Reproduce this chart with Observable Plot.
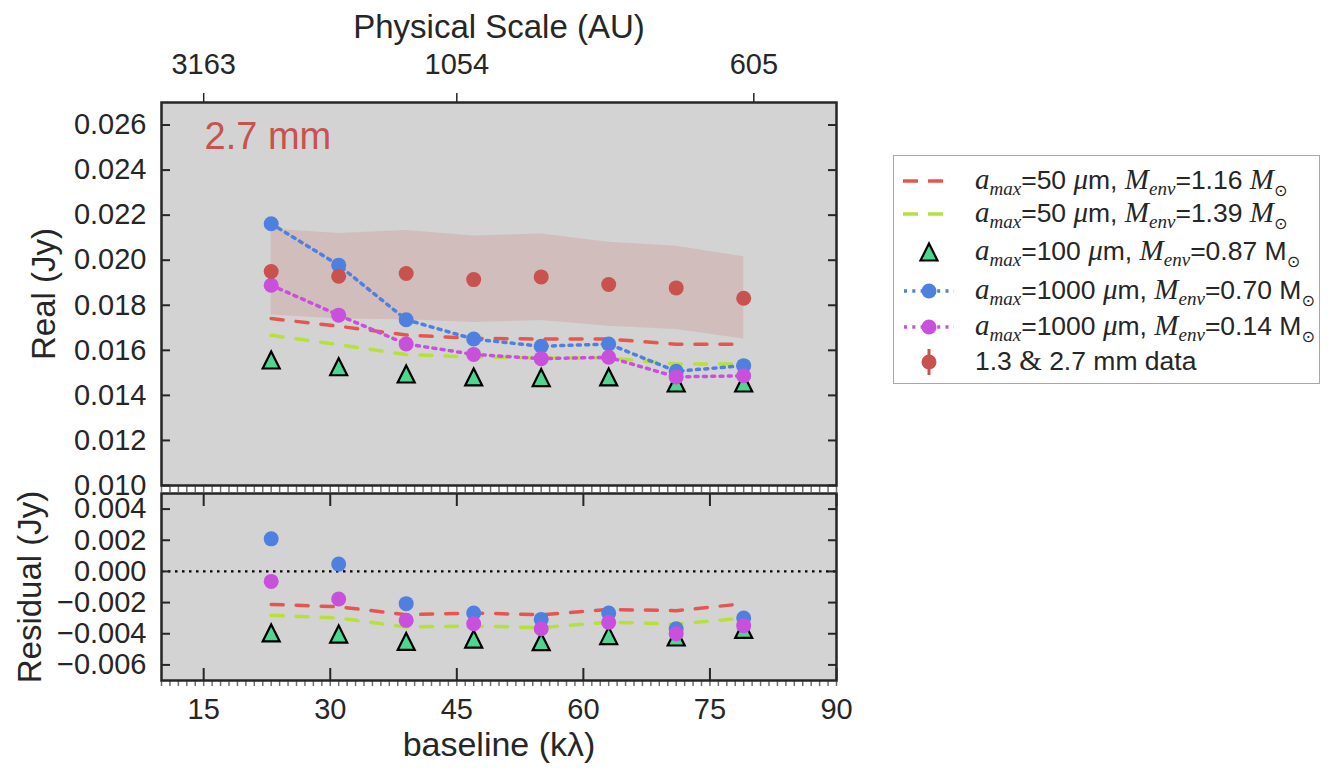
<!DOCTYPE html>
<html>
<head>
<meta charset="utf-8">
<script src="https://cdn.jsdelivr.net/npm/d3@7"></script>
<script src="https://cdn.jsdelivr.net/npm/@observablehq/plot@0.6"></script>
<style>
  body { margin: 0; background: #fff; }
  #fig { position: relative; width: 1336px; height: 781px; font-family: "Liberation Sans", Arial, sans-serif; color: #262626; }
  #fig > svg { position: absolute; left: 0; overflow: visible; }
  .legend { position: absolute; left: 893px; top: 155px; width: 427px; height: 229px; border: 1.5px solid #a8a8a8; background: #fff; box-sizing: border-box; }
  .row { position: absolute; left: 0; height: 0; width: 100%; }
  .row svg { position: absolute; left: 0; top: -15px; overflow: visible; }
  .row .txt { position: absolute; left: 81px; top: 0; transform: translateY(-55%); white-space: nowrap; font-size: 26.5px; color: #262626; line-height: 1; }
  .m { font-family: "Liberation Serif", "DejaVu Serif", serif; font-style: italic; font-size: 29px; }
  .sub { font-family: "Liberation Serif", "DejaVu Serif", serif; font-style: italic; font-size: 19px; position: relative; top: 6px; }
  .sun { font-family: "DejaVu Sans", sans-serif; font-size: 16px; position: relative; top: 7px; }
</style>
</head>
<body>
<div id="fig"></div>
<script>
// uv-binned baselines (kλ)
const baseline = [23, 31, 39, 47, 55, 63, 71, 79];

// 1.3 & 2.7 mm real visibilities and their uncertainty envelope (Jy)
const realData = [0.01950, 0.01929, 0.01941, 0.01914, 0.01926, 0.01892, 0.01877, 0.01831];
const bandHi   = [0.02139, 0.02119, 0.02132, 0.02107, 0.02116, 0.02080, 0.02062, 0.02015];
const bandLo   = [0.01757, 0.01739, 0.01736, 0.01724, 0.01732, 0.01707, 0.01692, 0.01650];

// model real visibilities (Jy)
const modelA50M116   = [0.01741, 0.01707, 0.01668, 0.01653, 0.01650, 0.01650, 0.01627, 0.01627];
const modelA50M139   = [0.01667, 0.01625, 0.01581, 0.01570, 0.01566, 0.01566, 0.01539, 0.01539];
const modelA100M087  = [0.01557, 0.01527, 0.01495, 0.01482, 0.01479, 0.01482, 0.01455, 0.01455];
const modelA1000M070 = [0.02162, 0.01978, 0.01736, 0.01650, 0.01618, 0.01628, 0.01507, 0.01532];
const modelA1000M014 = [0.01889, 0.01756, 0.01628, 0.01582, 0.01563, 0.01569, 0.01482, 0.01487];

// residuals, model minus data (Jy)
const resA50M116   = [-0.00212, -0.00227, -0.00278, -0.00267, -0.00278, -0.00244, -0.00252, -0.00207];
const resA50M139   = [-0.00282, -0.00299, -0.00357, -0.00350, -0.00361, -0.00325, -0.00338, -0.00299];
const resA100M087  = [-0.00395, -0.00402, -0.00449, -0.00434, -0.00451, -0.00412, -0.00421, -0.00372];
const resA1000M070 = [0.00209, 0.00047, -0.00207, -0.00267, -0.00308, -0.00267, -0.00368, -0.00299];
const resA1000M014 = [-0.00064, -0.00177, -0.00314, -0.00336, -0.00368, -0.00327, -0.00400, -0.00348];

// axis ticks
const xMajorTicks = [15, 30, 45, 60, 75, 90];
const xMinorTicks = d3.range(10, 91, 1);
const topTickPos = [15, 45, 80.2];
const topTickLabels = ["3163", "1054", "605"];
const yTicksReal = [0.010, 0.012, 0.014, 0.016, 0.018, 0.020, 0.022, 0.024, 0.026];
const yTicksResid = [-0.006, -0.004, -0.002, 0.000, 0.002, 0.004];

const C = {
  bg: "#d3d3d3",
  frame: "#262626",
  data: "#c8524d",
  red: "#e6564e",
  lime: "#b7e03b",
  green: "#4cd68f",
  blue: "#4f80e0",
  magenta: "#c94fdd"
};

const rows = (...cols) => baseline.map((b, i) => Object.fromEntries([["b", b], ...cols.map(([k, arr]) => [k, arr[i]])]));
const realRows = rows(["data", realData], ["lo", bandLo], ["hi", bandHi], ["m116", modelA50M116], ["m139", modelA50M139],
  ["m087", modelA100M087], ["m070", modelA1000M070], ["m014", modelA1000M014]);
const resRows = rows(["m116", resA50M116], ["m139", resA50M139], ["m087", resA100M087], ["m070", resA1000M070], ["m014", resA1000M014]);

// upward triangle centred on its bounding box
const triangle = {
  draw(ctx, size) {
    const r = Math.sqrt(size / Math.PI);
    ctx.moveTo(0, -r);
    ctx.lineTo(r, r);
    ctx.lineTo(-r, r);
    ctx.closePath();
  }
};

const fmt3 = d3.format(".3f");
const topLabel = new Map(topTickPos.map((p, i) => [p, topTickLabels[i]]));
const blank = () => "";
const W = 860;
const style = { background: "transparent", fontFamily: "'Liberation Sans', Arial, sans-serif", fontSize: "29px", color: C.frame, overflow: "visible" };
const dash = "12,13";
const dot = "3,5.3";
const titleSize = 33;

const modelMarks = (data) => [
  Plot.line(data, { x: "b", y: "m116", stroke: C.red, strokeWidth: 3.5, strokeDasharray: dash }),
  Plot.line(data, { x: "b", y: "m139", stroke: C.lime, strokeWidth: 3.5, strokeDasharray: dash }),
  Plot.dot(data, { x: "b", y: "m087", symbol: triangle, r: 8.5, fill: C.green, stroke: "black", strokeWidth: 2.2 })
];

const mainPlot = Plot.plot({
  width: W, height: 495,
  marginLeft: 161, marginRight: W - 836, marginTop: 102, marginBottom: 10,
  style,
  x: { domain: [10, 90], axis: null },
  y: { domain: [0.010, 0.027], axis: null },
  marks: [
    Plot.frame({ fill: C.bg }),
    Plot.areaY(realRows, { x: "b", y1: "lo", y2: "hi", fill: C.data, fillOpacity: 0.17 }),
    ...modelMarks(realRows),
    Plot.line(realRows, { x: "b", y: "m070", stroke: C.blue, strokeWidth: 3.5, strokeDasharray: dot }),
    Plot.dot(realRows, { x: "b", y: "m070", r: 7.5, fill: C.blue }),
    Plot.line(realRows, { x: "b", y: "m014", stroke: C.magenta, strokeWidth: 3.5, strokeDasharray: dot }),
    Plot.dot(realRows, { x: "b", y: "m014", r: 7.5, fill: C.magenta }),
    Plot.dot(realRows, { x: "b", y: "data", r: 7.5, fill: C.data }),
    Plot.axisY({ anchor: "left", ticks: yTicksReal, tickFormat: fmt3, tickSize: -9, tickPadding: 24, strokeWidth: 2, label: null }),
    Plot.axisY({ anchor: "right", ticks: yTicksReal, tickFormat: blank, tickSize: -9, strokeWidth: 2, label: null }),
    Plot.axisX({ anchor: "top", ticks: topTickPos, tickFormat: (d) => topLabel.get(d), tickSize: 10, tickPadding: 19, strokeWidth: 1.5, label: null }),
    Plot.axisX({ anchor: "bottom", ticks: xMinorTicks, tickFormat: blank, tickSize: 7, stroke: "#707070", strokeWidth: 1.5, label: null }),
    Plot.text(["Physical Scale (AU)"], { frameAnchor: "top", lineAnchor: "middle", dy: -75, fontSize: titleSize, fill: C.frame }),
    Plot.text(["Real (Jy)"], { frameAnchor: "left", lineAnchor: "middle", textAnchor: "middle", dx: -117, rotate: -90, fontSize: titleSize, fill: C.frame }),
    Plot.text(["2.7 mm"], { frameAnchor: "top-left", lineAnchor: "middle", textAnchor: "start", dx: 43, dy: 34, fontSize: 38, fill: C.data }),
    Plot.frame({ stroke: C.frame, strokeWidth: 2.5 })
  ]
});

const residPlot = Plot.plot({
  width: W, height: 296,
  marginLeft: 161, marginRight: W - 836, marginTop: 8, marginBottom: 101,
  style,
  x: { domain: [10, 90], axis: null },
  y: { domain: [-0.007, 0.005], axis: null },
  marks: [
    Plot.frame({ fill: C.bg }),
    Plot.ruleY([0], { stroke: "black", strokeWidth: 2.2, strokeDasharray: "2.5,4.5" }),
    ...modelMarks(resRows),
    Plot.dot(resRows, { x: "b", y: "m070", r: 7.5, fill: C.blue }),
    Plot.dot(resRows, { x: "b", y: "m014", r: 7.5, fill: C.magenta }),
    Plot.axisY({ anchor: "left", ticks: yTicksResid, tickFormat: fmt3, tickSize: -9, tickPadding: 24, strokeWidth: 2, label: null }),
    Plot.axisY({ anchor: "right", ticks: yTicksResid, tickFormat: blank, tickSize: -9, strokeWidth: 2, label: null }),
    Plot.axisX({ anchor: "bottom", ticks: xMajorTicks, tickFormat: d3.format("d"), tickSize: -12, tickPadding: 30, strokeWidth: 2, label: null }),
    Plot.axisX({ anchor: "bottom", ticks: xMinorTicks, tickFormat: blank, tickSize: 6, stroke: "#707070", strokeWidth: 1.5, label: null }),
    Plot.axisX({ anchor: "top", ticks: xMajorTicks, tickFormat: blank, tickSize: -12, strokeWidth: 2, label: null }),
    Plot.text(["baseline (kλ)"], { frameAnchor: "bottom", lineAnchor: "middle", dy: 65, fontSize: 34, fill: C.frame }),
    Plot.text(["Residual (Jy)"], { frameAnchor: "left", lineAnchor: "middle", textAnchor: "middle", dx: -131, rotate: -90, fontSize: titleSize, fill: C.frame }),
    Plot.frame({ stroke: C.frame, strokeWidth: 2.5 })
  ]
});

const fig = document.getElementById("fig");
residPlot.style.top = "485px";
mainPlot.style.top = "0px";
fig.append(residPlot, mainPlot);

// legend
const amax = (v) => `<span class="m">a</span><span class="sub">max</span>=${v} <span class="m">μ</span>m, `;
const menv = (v, italicM) => `<span class="m">M</span><span class="sub">env</span>=${v} ` +
  (italicM ? `<span class="m">M</span>` : `M`) + `<span class="sun">⊙</span>`;
const legendItems = [
  { y: 25, sym: "dash", color: C.red, html: amax(50) + menv("1.16", true) },
  { y: 58, sym: "dash", color: C.lime, html: amax(50) + menv("1.39", true) },
  { y: 96, sym: "tri", color: C.green, html: amax(100) + menv("0.87", false) },
  { y: 135, sym: "dotline", color: C.blue, html: amax(1000) + menv("0.70", false) },
  { y: 171, sym: "dotline", color: C.magenta, html: amax(1000) + menv("0.14", false) },
  { y: 206, sym: "err", color: C.data, html: `1.3 <span class="m" style="font-style:normal">&amp;</span> 2.7 mm data` }
];
const symbolSvg = ({ sym, color }) => {
  const c = 15;
  if (sym === "dash") return `<line x1="9" x2="49" y1="${c}" y2="${c}" stroke="${color}" stroke-width="3.5" stroke-dasharray="15,10"/>`;
  if (sym === "tri") return `<path d="M35,${c - 8.5} L43.5,${c + 8.5} L26.5,${c + 8.5} Z" fill="${color}" stroke="black" stroke-width="2.2"/>`;
  if (sym === "dotline") return `<line x1="10" x2="60" y1="${c}" y2="${c}" stroke="${color}" stroke-width="3.5" stroke-dasharray="3,5.3"/><circle cx="35" cy="${c}" r="7.5" fill="${color}"/>`;
  return `<line x1="35" x2="35" y1="${c - 13}" y2="${c + 13}" stroke="${color}" stroke-width="3"/><circle cx="35" cy="${c}" r="7.5" fill="${color}"/>`;
};
const legend = document.createElement("div");
legend.className = "legend";
legend.innerHTML = legendItems.map((it) =>
  `<div class="row" style="top:${it.y}px"><svg width="70" height="30">${symbolSvg(it)}</svg><span class="txt">${it.html}</span></div>`
).join("");
fig.append(legend);
</script>
</body>
</html>
